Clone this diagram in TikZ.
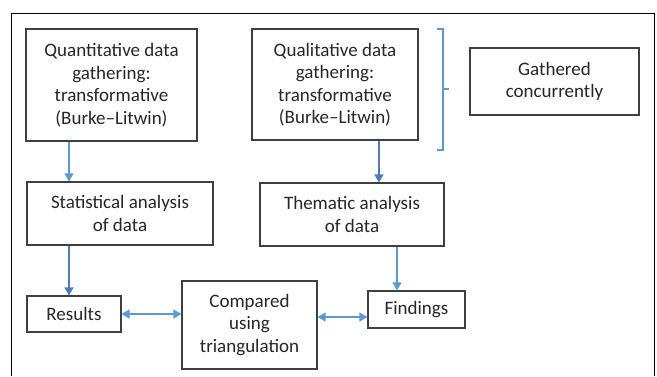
\documentclass[tikz,border=0pt]{standalone}
\usepackage{fontspec}
\setmainfont{Carlito}
\usetikzlibrary{arrows.meta}
\definecolor{boxline}{HTML}{404040}
\definecolor{txt}{HTML}{262626}
\definecolor{flow}{HTML}{5B9BD5}
\definecolor{flowdark}{HTML}{4A7EBB}
\tikzset{
  stage/.style={draw=boxline, line width=1.1pt, rectangle, align=center,
    text=txt, font=\fontsize{19}{22.5}\selectfont, inner sep=0pt},
  link/.style={draw=flow, line width=1.2pt, -{Triangle[length=8pt,width=9pt]}},
  linkdark/.style={link, draw=flowdark, -{Triangle[length=8pt,width=9pt,fill=flowdark]}},
  twoway/.style={draw=flow, line width=1.2pt, {Triangle[length=8pt,width=9pt]}-{Triangle[length=8pt,width=9pt]}},
}
\begin{document}
\begin{tikzpicture}[x=1pt,y=-1pt]
\useasboundingbox (0,0) rectangle (657,376);
% outer frame
\draw[line width=0.9pt, black] (11,376) -- (11,13) -- (654,13) -- (654,376);

% boxes
\node[stage, minimum width=171pt, minimum height=112pt] (quant) at (111.5,85)
  {Quantitative data\\gathering:\\transformative\\(Burke–Litwin)};
\node[stage, minimum width=166pt, minimum height=111pt] (qual) at (335,84.5)
  {Qualitative data\\gathering:\\transformative\\(Burke–Litwin)};
\node[stage, minimum width=169pt, minimum height=67pt] (conc) at (554.5,81.5)
  {Gathered\\concurrently};
\node[stage, minimum width=186pt, minimum height=63pt] (stat) at (120,213.5)
  {Statistical analysis\\of data};
\node[stage, minimum width=184pt, minimum height=63pt] (them) at (352,214.5)
  {Thematic analysis\\of data};
\node[stage, minimum width=94pt, minimum height=36pt] (res) at (74,314)
  {Results};
\node[stage, minimum width=135pt, minimum height=88pt] (comp) at (249.5,325)
  {Compared\\using\\triangulation};
\node[stage, minimum width=97pt, minimum height=37pt] (find) at (416.5,309.5)
  {Findings};

% bracket grouping the two gathering steps
\coordinate (brt) at (437,29);
\coordinate (brb) at (437,150);
\draw[draw=flow, line width=1.1pt]
  (brt) -- ++(6,0) -- ++(0,121) -- (brb)
  (443,89) -- ++(6,0);

% flow arrows
\draw[link] (quant.south -| 69,0) -- (stat.north -| 69,0);
\draw[linkdark] (qual.south -| 379,0) -- (them.north -| 379,0);
\draw[linkdark] (stat.south -| 69,0) -- (res.north -| 69,0);
\draw[link] (them.south -| 397,0) -- (find.north -| 397,0);
\draw[twoway] (res.east |- 0,314) -- (comp.west |- 0,314);
\draw[twoway] (comp.east |- 0,317) -- (find.west |- 0,317);
\end{tikzpicture}
\end{document}
